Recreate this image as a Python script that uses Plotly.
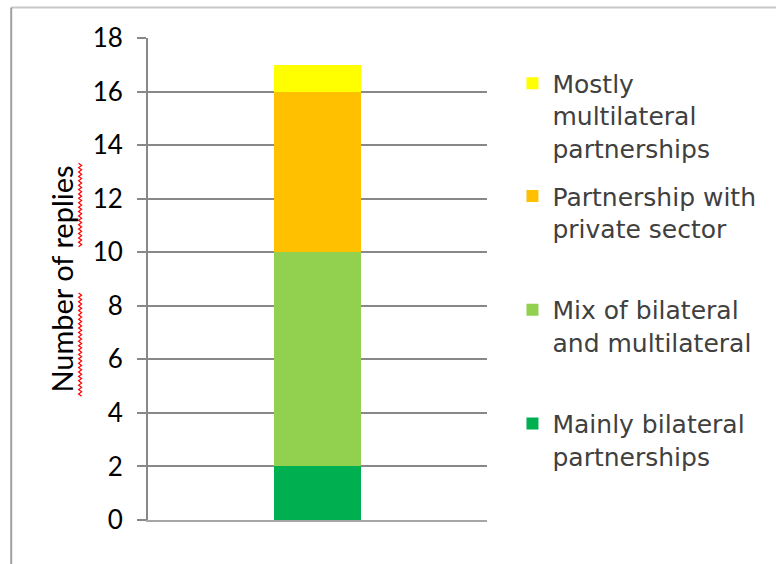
import plotly.graph_objects as go

# Survey replies by type of partnership (single stacked column)
category = [""]
series_names = [
    "Mainly bilateral<br>partnerships",
    "Mix of bilateral<br>and multilateral",
    "Partnership with<br>private sector",
    "Mostly<br>multilateral<br>partnerships",
]
series_values = [2, 8, 6, 1]
series_colors = ["#00B050", "#92D050", "#FFC000", "#FFFF00"]
y_ticks = [0, 2, 4, 6, 8, 10, 12, 14, 16, 18]

W, H = 776, 564
L, R, T, B = 148, 288.5, 37.5, 43.5
PW, PH = W - L - R, H - T - B


def px_x(px):
    return (px - L) / PW


def px_y(py):
    return (H - B - py) / PH


fig = go.Figure()
legend_ids = ["legend4", "legend3", "legend2", "legend"]
for name, val, col, lg in zip(series_names, series_values, series_colors, legend_ids):
    fig.add_trace(go.Bar(
        x=category, y=[val], name=name, marker_color=col,
        marker_line_width=0, width=0.254, legend=lg,
    ))

legend_tops = {"legend": 60, "legend2": 173, "legend3": 287, "legend4": 401}
legend_font = dict(family="DejaVu Sans, sans-serif", size=25, color="#404040")
legend_layout = {}
for lg, top in legend_tops.items():
    legend_layout[lg] = dict(
        x=px_x(513), y=px_y(top), xanchor="left", yanchor="top",
        font=legend_font, valign="top", bgcolor="rgba(0,0,0,0)",
        borderwidth=0, itemclick=False, itemdoubleclick=False,
    )


# spell-check style wavy underline beside the axis title
def squiggle(x_px, y0_px, y1_px, amp=3.0, step=2.2):
    pts = []
    y = y0_px
    k = 0
    while y <= y1_px:
        xx = x_px + (amp if k % 2 else -amp) / 2
        pts.append(f"{px_x(xx):.5f},{px_y(y):.5f}")
        y += step
        k += 1
    return "M" + " L".join(pts)


shapes = [
    # frame edges
    dict(type="line", xref="paper", yref="paper", x0=px_x(11), x1=px_x(780),
         y0=px_y(7), y1=px_y(7), line=dict(color="#C8C8C8", width=2)),
    dict(type="line", xref="paper", yref="paper", x0=px_x(11), x1=px_x(11),
         y0=px_y(7), y1=px_y(570), line=dict(color="#A0A0A0", width=2)),
    dict(type="path", xref="paper", yref="paper", path=squiggle(80, 163, 248),
         line=dict(color="#FF0000", width=1.2)),
    dict(type="path", xref="paper", yref="paper", path=squiggle(80, 293, 398),
         line=dict(color="#FF0000", width=1.2)),
]

fig.update_layout(
    width=W, height=H,
    margin=dict(l=L, r=R, t=T, b=B, autoexpand=False),
    paper_bgcolor="white", plot_bgcolor="white",
    barmode="stack",
    showlegend=True,
    shapes=shapes,
    **legend_layout,
)

fig.update_xaxes(
    range=[-0.5, 0.5], showticklabels=False, ticks="",
    showgrid=False, zeroline=False,
    showline=True, linecolor="#A6A6A6", linewidth=2,
)
fig.update_yaxes(
    range=[0, 18], tickvals=y_ticks,
    ticks="outside", ticklen=9, tickwidth=2, tickcolor="#888888",
    showline=True, linecolor="#888888", linewidth=2,
    showgrid=True, gridcolor="#888888", gridwidth=2,
    zeroline=False,
    tickfont=dict(family="Lato, sans-serif", size=26, color="#000000"),
    ticklabelstandoff=9,
    title=dict(text="Number of replies", standoff=10,
               font=dict(family="Lato, sans-serif", size=29, color="#000000")),
    automargin=False,
)

fig.write_html("out.html")
